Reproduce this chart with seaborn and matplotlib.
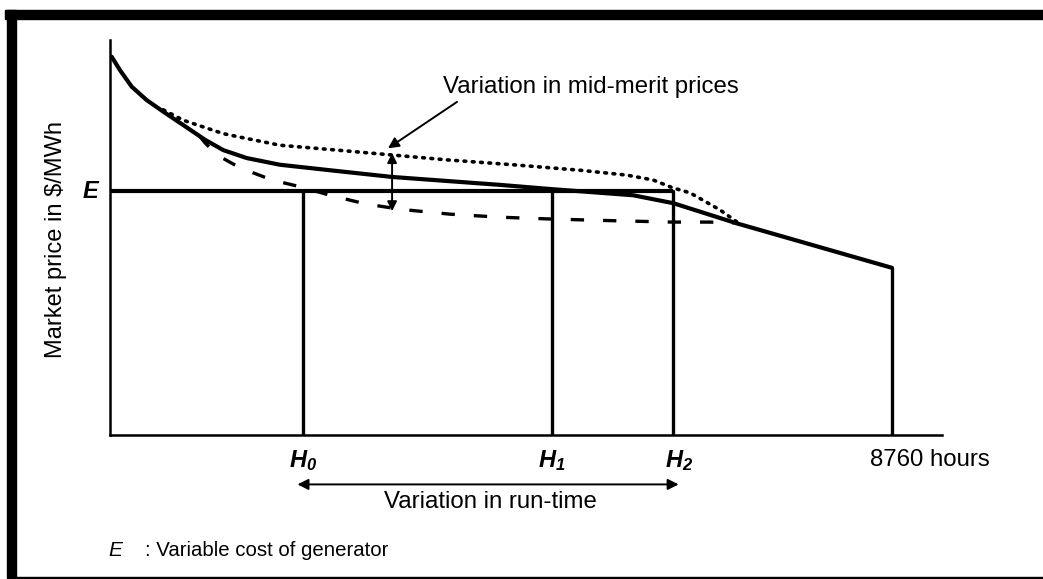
import matplotlib
matplotlib.use('Agg')
import matplotlib.pyplot as plt
from matplotlib.patches import Rectangle
import pandas as pd
import seaborn as sns

# hours along the price-duration axis
H0, H1, H2, H_END = 2160, 4950, 6310, 8760
E = 40                      # variable cost of generator (arbitrary units)
END_PRICE = 27.4

# base market price-duration curve (solid)
base_hours = [19, 112, 243, 411, 597, 821, 1064, 1269, 1531, 1904, 2464,
              3160, 4370, 4950, 5860, 6310, 7020, 8760]
base_price = [62.0, 59.8, 57.1, 54.9, 53.0, 50.8, 48.4, 46.7, 45.4, 44.3, 43.4,
              42.3, 41.0, 40.3, 39.3, 38.0, 34.7, 27.4]

# high mid-merit price scenario (dotted)
high_hours = [597, 821, 1064, 1269, 1531, 1904, 2464, 3160, 3775, 4515, 5265,
              5790, 6085, 6307, 6497, 6833, 7024]
high_price = [53.3, 51.6, 50.4, 49.4, 48.6, 47.5, 46.8, 45.9, 45.1, 44.3, 43.4,
              42.6, 41.8, 40.5, 39.7, 36.9, 34.9]

# low mid-merit price scenario (dashed)
low_hours = [1010, 1064, 1199, 1456, 1815, 2128, 2464, 2857, 3249, 3809, 4369,
             4951, 5713, 6307, 6721, 7024]
low_price = [48.9, 47.9, 45.9, 43.8, 41.8, 40.7, 39.3, 37.9, 37.0, 36.2, 35.7,
             35.4, 35.1, 34.9, 34.9, 34.75]

W, H = 1043, 579
fig = plt.figure(figsize=(W / 100, H / 100), dpi=100)
sns.set_style('white')
plt.rcParams['font.family'] = ['Liberation Sans', 'DejaVu Sans']
plt.rcParams['text.color'] = 'black'
plt.rcParams['mathtext.fontset'] = 'custom'
plt.rcParams['mathtext.it'] = 'Liberation Sans:italic:bold'
plt.rcParams['mathtext.rm'] = 'Liberation Sans:italic:bold'


def px(x0, y0, x1, y1):
    # pixel box (top-left origin) -> figure fraction rect
    return [x0 / W, 1 - y1 / H, (x1 - x0) / W, (y1 - y0) / H]


ax = fig.add_axes(px(110, 40, 942, 435))
ax.set_xlim(0, 9320)
ax.set_ylim(0, 64.75)

base = pd.DataFrame({'hours': base_hours, 'price': base_price})
high = pd.DataFrame({'hours': high_hours, 'price': high_price})
low = pd.DataFrame({'hours': low_hours, 'price': low_price})

sns.lineplot(data=base, x='hours', y='price', sort=False, ax=ax,
             color='black', lw=3.0, solid_joinstyle='round', solid_capstyle='round')
sns.lineplot(data=high, x='hours', y='price', sort=False, ax=ax,
             color='black', lw=2.6, linestyle=(0, (0.5, 1.8)), dash_capstyle='round')
sns.lineplot(data=low, x='hours', y='price', sort=False, ax=ax,
             color='black', lw=2.4, linestyle=(0, (4, 5.7)))

# E line and run-time verticals
ax.plot([0, H2], [E, E], color='black', lw=3.0, solid_capstyle='butt')
for h in (H0, H1, H2):
    ax.plot([h, h], [0, E], color='black', lw=2.4)
ax.plot([H_END, H_END], [0, END_PRICE], color='black', lw=2.4)

for side in ('top', 'right'):
    ax.spines[side].set_visible(False)
for side in ('left', 'bottom'):
    ax.spines[side].set_linewidth(1.8)
    ax.spines[side].set_color('black')
ax.set_xticks([])
ax.set_yticks([])
ax.set_xlabel('')
ax.set_ylabel('')

# variation in mid-merit prices: double arrow + pointer
ax.annotate('', xy=(3160, 46.2), xytext=(3160, 36.7),
            arrowprops=dict(arrowstyle='<|-|>', color='black', lw=1.4,
                            mutation_scale=14, shrinkA=0, shrinkB=0))
ax.annotate('', xy=(3114, 47.0), xytext=(3887, 54.6),
            arrowprops=dict(arrowstyle='-|>', color='black', lw=1.4,
                            mutation_scale=16, shrinkA=0, shrinkB=0))
fig.text(591 / W, 1 - 87 / H, 'Variation in mid-merit prices',
         ha='center', va='center', fontsize=17.3)

# variation in run-time arrow (spans H0..H2)
ax.annotate('', xy=(H0 - 60, -8.1), xytext=(H2 + 60, -8.1), annotation_clip=False,
            arrowprops=dict(arrowstyle='<|-|>', color='black', lw=1.4,
                            mutation_scale=16, shrinkA=0, shrinkB=0))
fig.text(490 / W, 1 - 502 / H, 'Variation in run-time',
         ha='center', va='center', fontsize=17.3)

# labels
fig.text(56 / W, 1 - 240 / H, 'Market price in $/MWh', rotation=90,
         ha='center', va='center', fontsize=17)
fig.text(90 / W, 1 - 191 / H, 'E', ha='center', va='center', fontsize=17,
         style='italic', weight='bold')
for h, lab, xp in ((H0, r'$H_0$', 303), (H1, r'$H_1$', 552), (H2, r'$H_2$', 679)):
    fig.text(xp / W, 1 - 461 / H, lab, ha='center', va='center', fontsize=17)
fig.text(930 / W, 1 - 460 / H, '8760 hours', ha='center', va='center', fontsize=17.3)

fig.text(108 / W, 1 - 550 / H, 'E', ha='left', va='center', fontsize=15,
         style='italic')
fig.text(145 / W, 1 - 550 / H, ': Variable cost of generator', ha='left',
         va='center', fontsize=14.7)

# page frame
for rect in (px(5, 10, 1043, 19), px(7, 10, 16, 578), px(16, 577, 1043, 579)):
    fig.patches.append(Rectangle((rect[0], rect[1]), rect[2], rect[3],
                                 transform=fig.transFigure, color='black', zorder=10))

fig.savefig('out.png', dpi=100)
